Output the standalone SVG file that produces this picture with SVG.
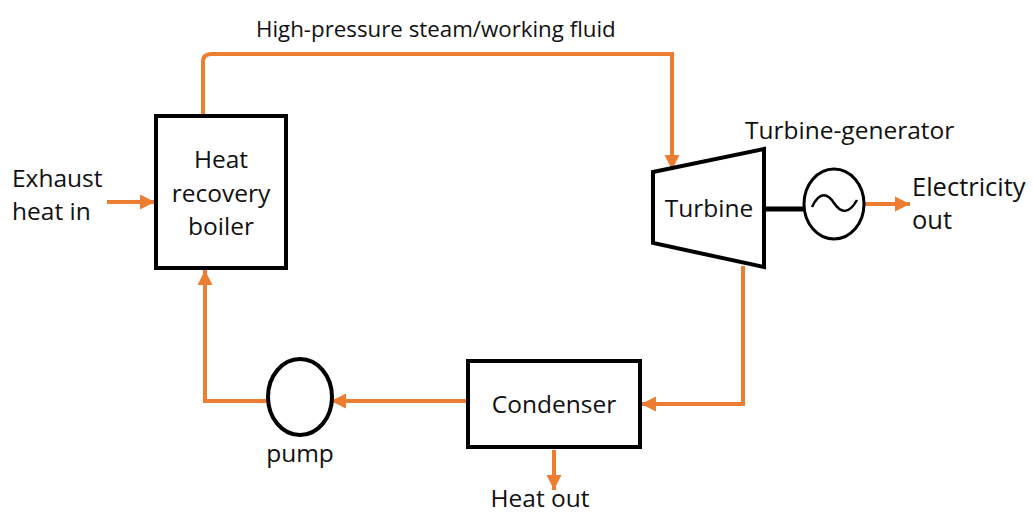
<svg xmlns="http://www.w3.org/2000/svg" width="1033" height="512" viewBox="0 0 1033 512">
<defs>
<style>
.t{font-family:"Open Sans",Lato,"Liberation Sans",sans-serif;font-size:24.5px;fill:#111}
.s{font-size:22.3px}
.box{fill:#fff;stroke:#000;stroke-width:4}
.flow{fill:none;stroke:#ED7D31;stroke-width:4}
</style>
<marker id="ah" viewBox="0 0 10 10" refX="10" refY="5" markerWidth="3.8" markerHeight="3.8" markerUnits="strokeWidth" orient="auto">
<path d="M0,0 L10,5 L0,10 z" fill="#ED7D31"/>
</marker>
</defs>
<rect width="1033" height="512" fill="#fff"/>
<g id="connectors">
<path class="flow" d="M203,116 V62 Q203,54 211,54 H672 V170" marker-end="url(#ah)"/>
<path class="flow" d="M107,202 H155" marker-end="url(#ah)"/>
<path class="flow" d="M743,266 V404 H641" marker-end="url(#ah)"/>
<path class="flow" d="M468,401 H331" marker-end="url(#ah)"/>
<path class="flow" d="M268,401 H205 V270" marker-end="url(#ah)"/>
<path class="flow" d="M554,450 V490" marker-end="url(#ah)"/>
<path class="flow" d="M865,204 H910" marker-end="url(#ah)"/>
<line x1="764" y1="209" x2="804" y2="209" stroke="#000" stroke-width="5"/>
</g>
<g id="boiler">
<rect class="box" x="156" y="116" width="130" height="152"/>
<text class="t" text-anchor="middle" x="221" y="168">Heat</text>
<text class="t" text-anchor="middle" x="221" y="202">recovery</text>
<text class="t" text-anchor="middle" x="221" y="235">boiler</text>
</g>
<g id="turbine">
<path class="box" d="M653,172 L764,149 V267 L653,243 Z"/>
<text class="t" text-anchor="middle" x="709" y="217">Turbine</text>
</g>
<g id="generator">
<ellipse cx="834" cy="204" rx="30" ry="35" fill="#fff" stroke="#000" stroke-width="3"/>
<path d="M812,207 C820,190 828,194 834,203 C840,212 848,216 857,200" fill="none" stroke="#000" stroke-width="2.5"/>
</g>
<g id="condenser">
<rect class="box" x="468" y="361" width="172" height="86"/>
<text class="t" text-anchor="middle" x="554" y="413">Condenser</text>
</g>
<g id="pump">
<ellipse cx="300" cy="397" rx="32" ry="38" fill="#fff" stroke="#000" stroke-width="4"/>
<text class="t" text-anchor="middle" x="300" y="462">pump</text>
</g>
<g id="labels">
<text class="t s" x="256" y="37">High-pressure steam/working fluid</text>
<text class="t" x="745" y="139">Turbine-generator</text>
<text class="t" x="12" y="187">Exhaust</text>
<text class="t" x="12" y="220">heat in</text>
<text class="t" x="912" y="196" style="font-size:25.5px">Electricity</text>
<text class="t" x="912" y="229" style="font-size:25.5px">out</text>
<text class="t" text-anchor="middle" x="540" y="507">Heat out</text>
</g>
</svg>
